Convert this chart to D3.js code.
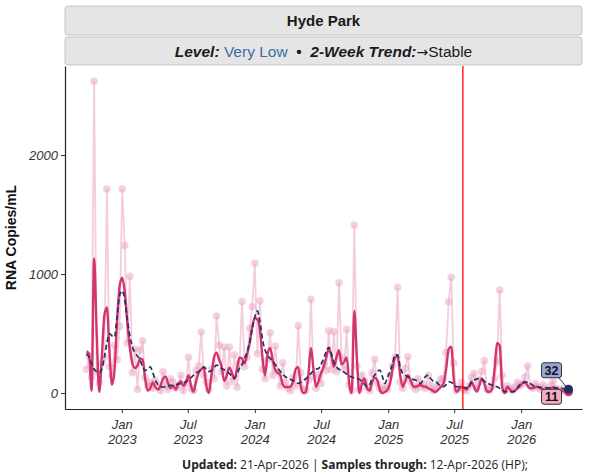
<!DOCTYPE html>
<html>
<head>
<meta charset="utf-8">
<script src="https://cdn.jsdelivr.net/npm/d3@7"></script>
<style>
  body { margin: 0; background: #fff; }
  svg { display: block; }
  text { font-family: "Liberation Sans", Arial, sans-serif; }
</style>
</head>
<body>
<div id="chart"></div>
<script>
// weekly sample dates, Hyde Park
const sampleWeeks = d3.timeMonday.range(new Date(2022, 8, 26), new Date(2026, 4, 12));

// raw sample values (RNA copies/mL)
const rawCopies = [
  200, 310, 130, 2620, 180, 90, 250, 300, 1715, 220,
  150, 400, 280, 560, 1715, 1240, 420, 980, 170, 370,
  30, 360, 440, 130, 60, 90, 40, 110, 70, 20,
  180, 60, 30, 120, 90, 40, 60, 150, 20, 80,
  300, 40, 20, 190, 230, 513, 150, 90, 30, 200,
  120, 647, 403, 180, 386, 60, 386, 100, 320, 50,
  250, 767, 220, 300, 545, 725, 1090, 330, 776, 200,
  120, 280, 507, 150, 395, 180, 60, 255, 90, 40,
  20, 130, 60, 566, 170, 30, 20, 110, 787, 140,
  40, 160, 80, 250, 190, 524, 200, 515, 180, 927,
  300, 200, 535, 70, 20, 1412, 230, 30, 150, 100,
  50, 20, 170, 283, 80, 40, 20, 60, 30, 150,
  230, 300, 888, 90, 40, 207, 305, 100, 60, 30,
  120, 50, 80, 40, 150, 60, 20, 40, 80, 120,
  120, 340, 767, 972, 250, 20, 40, 90, 30, 20,
  60, 130, 165, 40, 110, 180, 271, 30, 20, 60,
  120, 263, 866, 150, 20, 60, 40, 20, 50, 90,
  60, 80, 137, 227, 60, 40, 80, 50, 30, 70,
  40, 20, 60, 100, 40, 30, 20, 40, 15, 11
];

// smoothed site curve (solid)
const smoothCopies = [
  350, 330, 20, 1130, 500, 10, 300, 650, 720, 350,
  70, 200, 600, 900, 970, 850, 600, 380, 250, 210,
  230, 290, 280, 120, 20, 40, 90, 50, 30, 60,
  120, 140, 80, 40, 60, 30, 80, 100, 60, 90,
  150, 60, 10, 100, 170, 200, 210, 60, 0, 150,
  300, 340, 280, 220, 100, 150, 213, 170, 118, 200,
  300, 290, 250, 330, 420, 560, 630, 620, 530, 300,
  150, 330, 380, 280, 193, 170, 150, 70, 50, 50,
  55, 100, 200, 220, 60, 0, 10, 150, 380, 200,
  53, 100, 170, 221, 300, 370, 320, 221, 300, 360,
  240, 260, 300, 80, 0, 690, 300, 0, 80, 123,
  40, 20, 90, 130, 110, 30, 0, 10, 25, 80,
  200, 300, 310, 150, 53, 100, 150, 110, 60, 53,
  60, 70, 55, 53, 40, 30, 15, 11, 30, 53,
  80, 200, 370, 390, 120, 11, 30, 53, 40, 30,
  60, 95, 50, 11, 60, 123, 80, 15, 11, 30,
  200, 420, 400, 50, 0, 53, 30, 11, 20, 40,
  60, 85, 95, 60, 39, 40, 50, 53, 40, 30,
  25, 30, 40, 50, 40, 30, 19, 15, 12, 11
];

// regional trend (dashed)
const trendCopies = [
  330, 300, 250, 200, 180, 170, 200, 300, 420, 500,
  480, 470, 650, 820, 860, 780, 620, 480, 390, 340,
  310, 280, 220, 190, 200, 220, 170, 110, 70, 55,
  50, 55, 60, 65, 65, 70, 75, 80, 85, 95,
  110, 130, 150, 170, 180, 200, 220, 200, 180, 190,
  215, 235, 225, 207, 195, 180, 165, 140, 126, 160,
  210, 240, 290, 350, 430, 540, 640, 690, 600, 450,
  361, 320, 290, 270, 240, 207, 180, 155, 137, 125,
  115, 105, 90, 81, 90, 105, 120, 140, 165, 185,
  200, 207, 240, 290, 350, 385, 330, 260, 220, 200,
  190, 175, 160, 145, 135, 128, 123, 115, 95, 75,
  55, 70, 120, 150, 180, 193, 140, 81, 130, 180,
  250, 320, 320, 220, 165, 150, 137, 125, 115, 109,
  95, 81, 110, 140, 150, 120, 100, 95, 75, 60,
  53, 70, 95, 90, 70, 53, 53, 53, 48, 44,
  44, 95, 110, 118, 123, 115, 100, 85, 75, 65,
  58, 53, 40, 25, 12, 11, 11, 11, 20, 45,
  70, 81, 90, 95, 80, 65, 53, 50, 47, 45,
  44, 44, 44, 44, 44, 42, 40, 36, 34, 32
];

const yTicks = [0, 1000, 2000];
const xTicks = [new Date(2023, 0, 1), new Date(2023, 6, 1), new Date(2024, 0, 1),
  new Date(2024, 6, 1), new Date(2025, 0, 1), new Date(2025, 6, 1), new Date(2026, 0, 1)];
const xTickLabels = [["Jan", "2023"], ["Jul", "2023"], ["Jan", "2024"], ["Jul", "2024"],
  ["Jan", "2025"], ["Jul", "2025"], ["Jan", "2026"]];
const markerDate = new Date(2025, 6, 25);
const endLabels = [32, 11];

const W = 594, H = 475;
const panel = { left: 65, right: 582, top: 66, bottom: 409 };

const svg = d3.select("#chart").append("svg")
  .attr("width", W).attr("height", H);

const x = d3.scaleTime()
  .domain([new Date(2022, 6, 29), new Date(2026, 5, 17)])
  .range([panel.left, panel.right]);

const y = d3.scaleLinear()
  .domain([-134, 2748])
  .range([panel.bottom, panel.top]);

// facet strips
const strips = [
  { y0: 6, y1: 35 },
  { y0: 37, y1: 65 }
];
svg.selectAll(".strip").data(strips).enter().append("rect")
  .attr("x", panel.left).attr("y", d => d.y0)
  .attr("width", panel.right - panel.left).attr("height", d => d.y1 - d.y0)
  .attr("rx", 3)
  .attr("fill", "#e5e5e5").attr("stroke", "#c4c4c4").attr("stroke-width", 1);

const cx = (panel.left + panel.right) / 2;
svg.append("text")
  .attr("x", cx).attr("y", 25.5)
  .attr("text-anchor", "middle")
  .attr("font-size", 15).attr("font-weight", "bold").attr("fill", "#1a1a1a")
  .text("Hyde Park");

const sub = svg.append("text")
  .attr("x", cx).attr("y", 56.5)
  .attr("text-anchor", "middle")
  .attr("font-size", 15.5).attr("fill", "#1a1a1a")
  .style("white-space", "pre");
sub.append("tspan").attr("font-weight", "bold").attr("font-style", "italic").text("Level: ");
sub.append("tspan").attr("fill", "#3a6f9e").text("Very Low");
sub.append("tspan").attr("font-weight", "bold").text("  \u2022  ");
sub.append("tspan").attr("font-weight", "bold").attr("font-style", "italic").text("2-Week Trend:");
sub.append("tspan").style("font-family", "'DejaVu Sans', sans-serif").attr("font-size", 14).text("\u2192");
sub.append("tspan").text("Stable");

// raw samples
const raw = sampleWeeks.map((d, i) => ({ date: d, v: rawCopies[i] }));
const smooth = sampleWeeks.map((d, i) => ({ date: d, v: smoothCopies[i] }));
const trend = sampleWeeks.map((d, i) => ({ date: d, v: trendCopies[i] }));

const rawLine = d3.line().x(d => x(d.date)).y(d => y(d.v));
svg.append("path")
  .datum(raw)
  .attr("d", rawLine)
  .attr("fill", "none")
  .attr("stroke", "#f0bcd0")
  .attr("stroke-opacity", 0.75)
  .attr("stroke-width", 1.8);

svg.selectAll(".pt").data(raw).enter().append("circle")
  .attr("class", "pt")
  .attr("cx", d => x(d.date)).attr("cy", d => y(d.v))
  .attr("r", 3.8)
  .attr("fill", "#e699ba")
  .attr("fill-opacity", 0.45);

const curve = d3.line().curve(d3.curveMonotoneX).x(d => x(d.date)).y(d => y(d.v));

svg.append("path")
  .datum(smooth)
  .attr("d", curve)
  .attr("fill", "none")
  .attr("stroke", "#d4346e")
  .attr("stroke-width", 2.4)
  .attr("stroke-linejoin", "round");

svg.append("path")
  .datum(trend)
  .attr("d", curve)
  .attr("fill", "none")
  .attr("stroke", "#1e3461")
  .attr("stroke-width", 1.7)
  .attr("stroke-dasharray", "5,3");

// marker line
svg.append("line")
  .attr("x1", x(markerDate)).attr("x2", x(markerDate))
  .attr("y1", panel.top).attr("y2", panel.bottom)
  .attr("stroke", "#ff0000").attr("stroke-width", 1.3);

// end points + labels
const lastS = smooth[smooth.length - 1];
const lastT = trend[trend.length - 1];
const ex = x(lastT.date), eyT = y(lastT.v), eyS = y(lastS.v);

svg.append("line")
  .attr("x1", ex - 12).attr("y1", eyT - 14)
  .attr("x2", ex).attr("y2", eyT)
  .attr("stroke", "#333").attr("stroke-width", 1);

svg.append("circle").attr("cx", ex).attr("cy", eyS).attr("r", 4.5).attr("fill", "#d4346e");
svg.append("circle").attr("cx", ex).attr("cy", eyT).attr("r", 4.5).attr("fill", "#1e2f5c");

const boxes = [
  { v: endLabels[0], cx: ex - 17, cy: eyT - 19, fill: "#97a6d6" },
  { v: endLabels[1], cx: ex - 17, cy: eyS + 5, fill: "#f5a9c3" }
];
const bg = svg.selectAll(".lbl").data(boxes).enter().append("g").attr("class", "lbl");
bg.append("rect")
  .attr("x", d => d.cx - 10).attr("y", d => d.cy - 7.5)
  .attr("width", 20).attr("height", 15).attr("rx", 2.5)
  .attr("fill", d => d.fill).attr("stroke", "#333").attr("stroke-width", 1);
bg.append("text")
  .attr("x", d => d.cx).attr("y", d => d.cy + 4.5)
  .attr("text-anchor", "middle")
  .attr("font-size", 12.5).attr("font-weight", "bold").attr("fill", "#111")
  .text(d => d.v);

// axes
const yAxis = svg.append("g")
  .attr("transform", `translate(${panel.left},0)`)
  .call(d3.axisLeft(y).tickValues(yTicks).tickSize(4).tickSizeOuter(0).tickFormat(d3.format("d")));
yAxis.select(".domain").attr("stroke", "#222").attr("stroke-width", 1.2);
yAxis.selectAll(".tick line").attr("stroke", "#333");
yAxis.selectAll(".tick text")
  .attr("font-size", 13).attr("font-style", "italic").attr("fill", "#333")
  .attr("font-family", "Liberation Sans, Arial, sans-serif");

const xAxis = svg.append("g")
  .attr("transform", `translate(0,${panel.bottom})`)
  .call(d3.axisBottom(x).tickValues(xTicks).tickSize(4).tickSizeOuter(0).tickFormat(""));
xAxis.select(".domain").attr("stroke", "#222").attr("stroke-width", 1.2);
xAxis.selectAll(".tick line").attr("stroke", "#333");
xAxis.selectAll(".tick").each(function(d, i) {
  const t = d3.select(this).append("text")
    .attr("text-anchor", "middle")
    .attr("font-size", 13).attr("font-style", "italic").attr("fill", "#333")
    .attr("font-family", "Liberation Sans, Arial, sans-serif");
  t.append("tspan").attr("x", 0).attr("y", 20).text(xTickLabels[i][0]);
  t.append("tspan").attr("x", 0).attr("y", 35).text(xTickLabels[i][1]);
});

svg.append("text")
  .attr("transform", `translate(16,${(panel.top + panel.bottom) / 2}) rotate(-90)`)
  .attr("text-anchor", "middle")
  .attr("font-size", 14).attr("font-weight", "bold").attr("fill", "#111")
  .text("RNA Copies/mL");

// footer
const foot = svg.append("text")
  .attr("x", 355).attr("y", 469)
  .attr("text-anchor", "middle")
  .attr("font-size", 12).attr("fill", "#222")
  .style("font-family", "'Open Sans', sans-serif")
  .style("white-space", "pre");
foot.append("tspan").attr("font-weight", "bold").text("Updated:");
foot.append("tspan").text(" 21-Apr-2026 | ");
foot.append("tspan").attr("font-weight", "bold").text("Samples through:");
foot.append("tspan").text(" 12-Apr-2026 (HP);");
</script>
</body>
</html>
